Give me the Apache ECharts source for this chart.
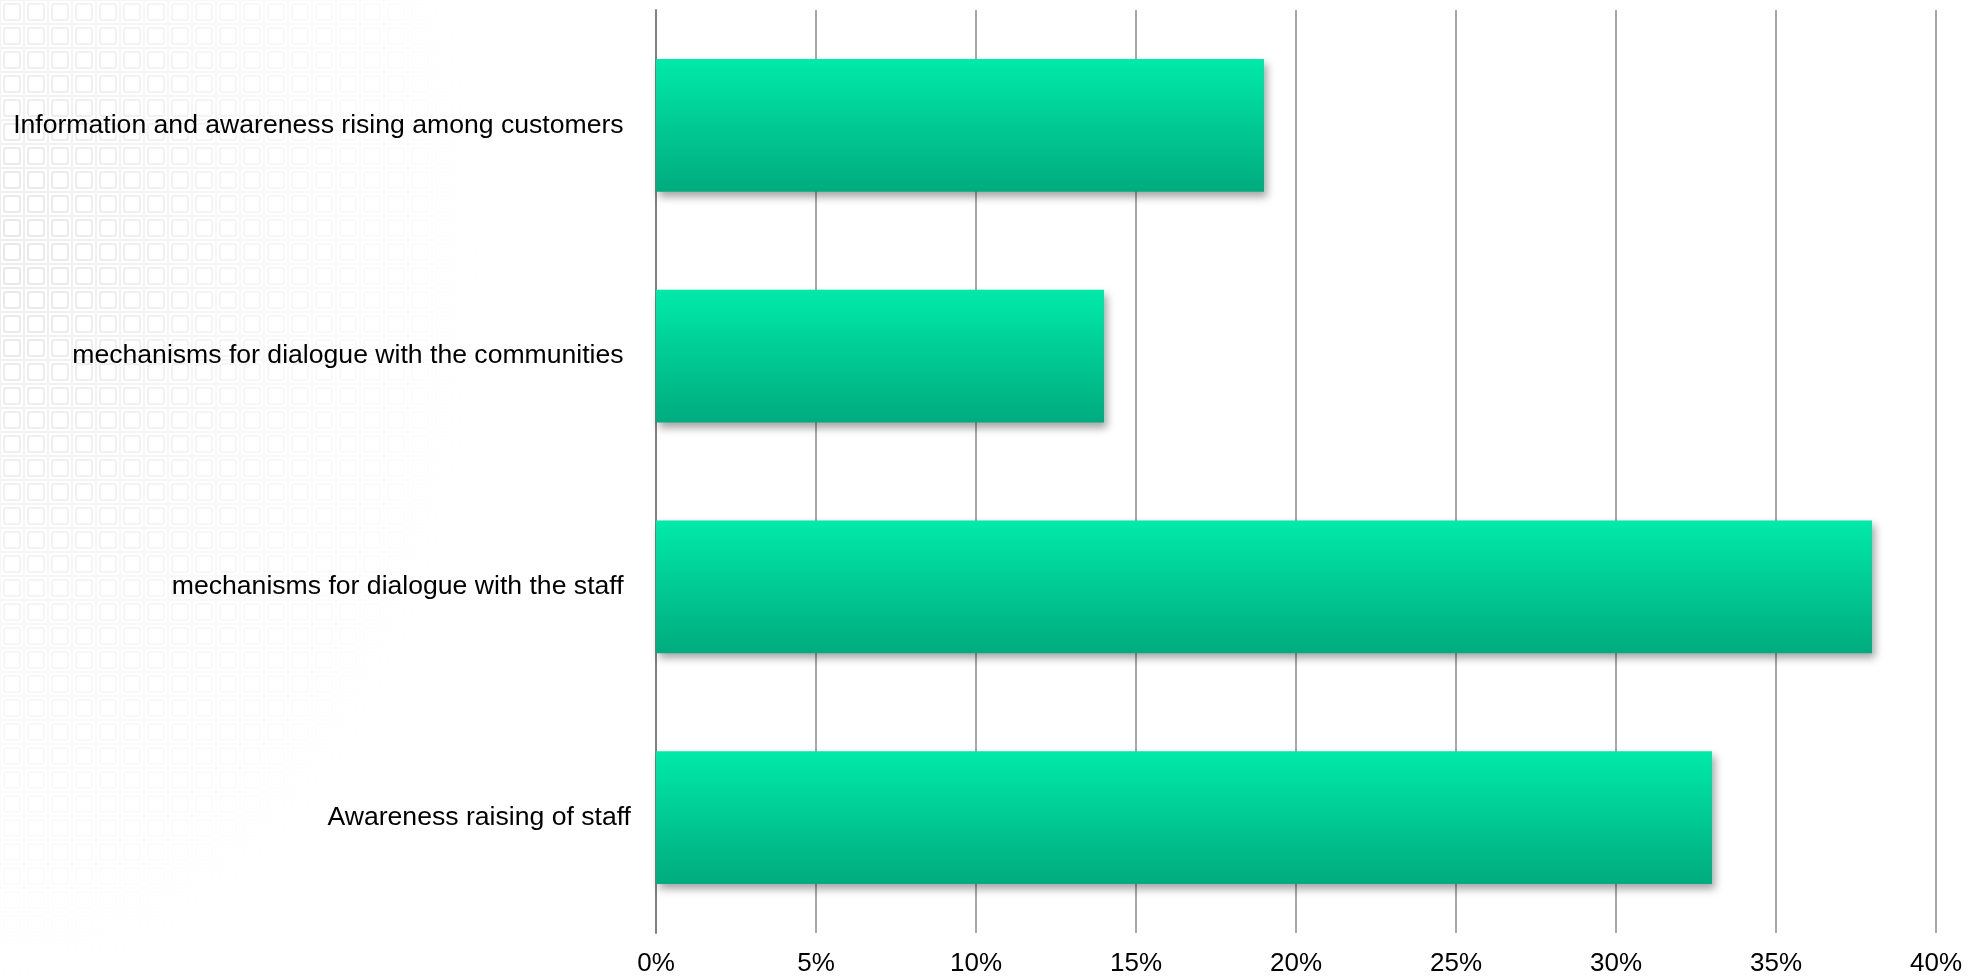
<!DOCTYPE html>
<html>
<head>
<meta charset="utf-8">
<script src="https://cdn.jsdelivr.net/npm/echarts@6/dist/echarts.min.js"></script>
<style>
  html, body { margin: 0; padding: 0; background: #fff; }
  #wrap { position: relative; width: 1968px; height: 978px; overflow: hidden; background: #fff; }
  #bg {
    position: absolute; left: 0; top: 0; width: 900px; height: 978px;
    background-image: url("data:image/svg+xml;utf8,<svg xmlns='http://www.w3.org/2000/svg' width='24' height='24'><rect x='0.5' y='0.5' width='23' height='23' fill='none' stroke='%23c8c8c8' stroke-width='1'/><rect x='4' y='4' width='16' height='16' rx='2' fill='none' stroke='%23a0a0a0' stroke-width='1.5'/></svg>");
    background-size: 24px 24px;
    -webkit-mask-image: radial-gradient(ellipse 480px 720px at 0px 260px, rgba(0,0,0,0.32) 0%, rgba(0,0,0,0.14) 50%, rgba(0,0,0,0) 100%);
    mask-image: radial-gradient(ellipse 480px 720px at 0px 260px, rgba(0,0,0,0.32) 0%, rgba(0,0,0,0.14) 50%, rgba(0,0,0,0) 100%);
  }
  #chart { position: absolute; left: 0; top: 0; width: 1968px; height: 978px; }
</style>
</head>
<body>
<div id="wrap">
  <div id="bg"></div>
  <div id="chart"></div>
</div>
<script>
const categories = [
  "Information and awareness rising among customers ",
  "mechanisms for dialogue with the communities ",
  "mechanisms for dialogue with the staff ",
  "Awareness raising of staff"
];
const values = [19, 14, 38, 33];
const xMin = 0;
const xMax = 40;
const xStep = 5;

const chart = echarts.init(document.getElementById('chart'), null, { renderer: 'canvas' });
chart.setOption({
  backgroundColor: 'transparent',
  animation: false,
  grid: { left: 656, right: 32, top: 10, bottom: 45, containLabel: false },
  xAxis: {
    type: 'value',
    min: xMin, max: xMax, interval: xStep,
    axisLine: { show: false },
    axisTick: { show: false },
    axisLabel: {
      formatter: v => v + '%',
      color: '#000', fontSize: 26, fontFamily: 'Liberation Sans, Arial, sans-serif',
      margin: 18
    },
    splitLine: { show: true, lineStyle: { color: '#8a8a8a', width: 1.5 } }
  },
  yAxis: {
    type: 'category',
    inverse: true,
    data: categories,
    axisLine: { show: true, lineStyle: { color: '#808080', width: 2 } },
    axisTick: { show: false },
    axisLabel: {
      color: '#000', fontSize: 26.6, fontFamily: 'Liberation Sans, Arial, sans-serif',
      margin: 25
    },
    splitLine: { show: false }
  },
  series: [{
    type: 'bar',
    data: values,
    barCategoryGap: '42.4%',
    itemStyle: {
      color: new echarts.graphic.LinearGradient(0, 0, 0, 1, [
        { offset: 0, color: '#00EAA9' },
        { offset: 1, color: '#00AB7E' }
      ]),
      shadowColor: 'rgba(0,0,0,0.35)',
      shadowBlur: 8,
      shadowOffsetX: 3,
      shadowOffsetY: 5
    }
  }]
});
</script>
</body>
</html>
